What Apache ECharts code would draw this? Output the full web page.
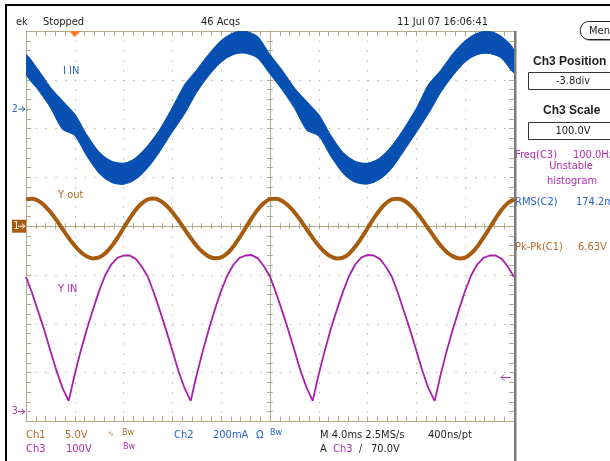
<!DOCTYPE html>
<html>
<head>
<meta charset="utf-8">
<script src="https://cdn.jsdelivr.net/npm/echarts@6/dist/echarts.min.js"></script>
<style>
html, body { margin: 0; padding: 0; background: #fff; }
#scope { width: 610px; height: 461px; }
</style>
</head>
<body>
<div id="scope"></div>
<script>
// time base 4 ms/div, trigger point 1 div from the left edge
var T_START = -4, T_END = 36;

// Ch1 "Y out" in V, one sample every 0.5 ms from T_START
var voutStep = 0.5;
var vout = [2.75, 2.82, 2.60, 2.13, 1.45, 0.62, -0.29, -1.19, -2.01, -2.67, -3.11, -3.30, -3.20, -2.78, -2.09, -1.19, -0.19, 0.80, 1.69, 2.36,
	2.76, 2.83, 2.61, 2.12, 1.44, 0.60, -0.31, -1.21, -2.03, -2.68, -3.12, -3.29, -3.19, -2.77, -2.07, -1.17, -0.17, 0.82, 1.70, 2.37,
	2.77, 2.81, 2.59, 2.11, 1.43, 0.61, -0.30, -1.20, -2.02, -2.66, -3.11, -3.31, -3.21, -2.79, -2.09, -1.20, -0.21, 0.79, 1.67, 2.35,
	2.74, 2.82, 2.62, 2.14, 1.46, 0.63, -0.28, -1.18, -2.00, -2.66, -3.09, -3.30, -3.22, -2.78, -2.08, -1.18, -0.18, 0.81, 1.70, 2.37,
	2.75];

// Ch2 "I IN" in mA, the noisy trace read as an upper and a lower edge, every 1 ms
// (it widens and stalls a little at each zero crossing)
var iStep = 1;
var iHigh = [222, 160, 88, 32, -22, -108, -178, -214, -222, -200,
	-150, -82, 5, 98, 160, 225, 280, 312, 318, 296,
	222, 158, 86, 30, -24, -110, -180, -215, -222, -201,
	-151, -80, 2, 100, 158, 226, 279, 311, 318, 296,
	240];
var iLow = [145, 80, 8, -82, -108, -192, -262, -300, -308, -287,
	-238, -170, -92, -18, 70, 140, 194, 224, 229, 209,
	145, 80, 6, -85, -110, -193, -262, -300, -307, -287,
	-240, -168, -94, -16, 70, 139, 195, 224, 228, 208,
	150];

// Ch3 "Y IN" in V (rectified line), every 0.5 ms
var vinStep = 0.5;
var vin = [276, 243, 205, 167, 125, 84, 48, 22,
	77, 126, 170, 210, 248, 280, 302, 315, 320, 320, 313, 297, 276, 242, 205, 166, 125, 83, 48, 22,
	76, 125, 170, 211, 248, 279, 301, 315, 320, 321, 314, 298, 277, 243, 206, 167, 126, 84, 49, 22,
	77, 126, 171, 210, 247, 279, 302, 316, 321, 320, 313, 297, 276, 242, 204, 166, 125, 83, 47, 22,
	77, 126, 170, 210, 248, 280, 302, 315, 320, 320, 313, 297, 276];

// vertical settings: units per div and position in div
var ch1 = {scale: 5, pos: 0};
var ch2 = {scale: 200, pos: 2.4};
var ch3 = {scale: 100, pos: -3.8};
var trigLevel = 70; // V on Ch3

var FRAME = '#b2aa8c', DOTS = '#b9b49e';
var BLUE = '#0750b2', BROWN = '#a65c0c', MAG = '#a81fae';
var BLUE_T = '#2a62c8', BROWN_T = '#b26c26', MAG_T = '#b02cb0', DARK = '#1e1e1e';
var NARROW = "'Liberation Sans Narrow', 'Arial Narrow', 'DejaVu Sans Condensed', 'Liberation Sans', sans-serif";
var GRID = {left: 26, top: 31, width: 488, height: 390.4};

function pairs(t0, step, arr) {
	return arr.map(function(v, i) { return [t0 + i * step, v]; });
}
function chRange(ch) {
	return {min: Math.round((-4 - ch.pos) * ch.scale * 1000) / 1000, max: Math.round((4 - ch.pos) * ch.scale * 1000) / 1000};
}

function frameX(pos, split) {
	return {
		type: 'value', min: T_START, max: T_END, interval: 4, position: pos,
		axisLine: {onZero: false, lineStyle: {color: FRAME, width: 1}},
		axisTick: {inside: true, length: 5, lineStyle: {color: FRAME}},
		minorTick: {show: true, splitNumber: 5, length: 5, lineStyle: {color: FRAME}},
		axisLabel: {show: false},
		splitLine: {show: split, lineStyle: {color: DOTS, type: [1.5, 8.26]}}
	};
}
function centerX(pos) {
	return {
		type: 'value', min: T_START, max: T_END, interval: 4, position: pos, offset: -GRID.height / 2,
		axisLine: {onZero: false, lineStyle: {color: FRAME}},
		axisTick: {length: 3, lineStyle: {color: FRAME}},
		minorTick: {show: true, splitNumber: 5, length: 3, lineStyle: {color: FRAME}},
		axisLabel: {show: false}, splitLine: {show: false}
	};
}
function frameY(pos, split) {
	return {
		type: 'value', min: -20, max: 20, interval: 5, position: pos,
		axisLine: {onZero: false, lineStyle: {color: FRAME, width: 1}},
		axisTick: {inside: true, length: 5, lineStyle: {color: FRAME}},
		minorTick: {show: true, splitNumber: 5, length: 5, lineStyle: {color: FRAME}},
		axisLabel: {show: false},
		splitLine: {show: split, lineStyle: {color: DOTS, type: [1.5, 8.26]}}
	};
}
function centerY(pos) {
	return {
		type: 'value', min: -20, max: 20, interval: 5, position: pos, offset: -GRID.width / 2,
		axisLine: {onZero: false, lineStyle: {color: FRAME}},
		axisTick: {length: 3, lineStyle: {color: FRAME}},
		minorTick: {show: true, splitNumber: 5, length: 3, lineStyle: {color: FRAME}},
		axisLabel: {show: false}, splitLine: {show: false}
	};
}
function hiddenY(ch) {
	var r = chRange(ch);
	return {type: 'value', min: r.min, max: r.max, show: false, splitLine: {show: false}};
}

// the I IN trace is a thick noisy band: fill between its two edges
function renderBand(params, api) {
	var pts = [];
	for (var i = 0; i < iHigh.length; i++) pts.push(api.coord([T_START + i * iStep, iHigh[i]]));
	for (var j = iLow.length - 1; j >= 0; j--) pts.push(api.coord([T_START + j * iStep, iLow[j]]));
	return {
		type: 'polygon',
		shape: {points: pts, smooth: 0.25},
		style: {fill: BLUE, stroke: BLUE, lineWidth: 1.2}
	};
}

var chart = echarts.init(document.getElementById('scope'));
chart.setOption({
	animation: false,
	backgroundColor: '#fff',
	grid: {left: GRID.left, top: GRID.top, width: GRID.width, height: GRID.height, containLabel: false},
	xAxis: [frameX('bottom', true), frameX('top', false), centerX('bottom'), centerX('top')],
	yAxis: [frameY('left', true), frameY('right', false), centerY('left'), centerY('right'), hiddenY(ch2), hiddenY(ch3)],
	series: [{
		name: 'I IN', type: 'custom', xAxisIndex: 0, yAxisIndex: 4,
		data: [[T_START, 0]], renderItem: renderBand, clip: true, z: 2, silent: true
	}, {
		name: 'Y out', type: 'line', xAxisIndex: 0, yAxisIndex: 0,
		data: pairs(T_START, voutStep, vout), symbol: 'none', smooth: 0.3,
		lineStyle: {color: BROWN, width: 4}, z: 3, silent: true
	}, {
		name: 'Y IN', type: 'line', xAxisIndex: 0, yAxisIndex: 5,
		data: pairs(T_START, vinStep, vin), symbol: 'none',
		lineStyle: {color: MAG, width: 1.8}, z: 4, silent: true
	}]
});

// screen furniture placed from the axes
var x0 = chart.convertToPixel({xAxisIndex: 0}, 0);
var y1 = chart.convertToPixel({yAxisIndex: 0}, 0);
var y2 = chart.convertToPixel({yAxisIndex: 4}, 0);
var y3 = chart.convertToPixel({yAxisIndex: 5}, 0);
var yTrig = chart.convertToPixel({yAxisIndex: 5}, trigLevel);

function txt(x, y, s, color, size, opt) {
	opt = opt || {};
	return {
		type: 'text', x: x, y: y, silent: true, z: 20,
		style: {
			text: s, fill: color,
			font: (opt.bold ? 'bold ' : '') + size + 'px ' + (opt.family || NARROW),
			align: opt.align || 'left', textAlign: opt.align || 'left',
			verticalAlign: 'middle', textVerticalAlign: 'middle'
		}
	};
}
function arrowRight(x, y, color) {
	return [{
		type: 'polyline', silent: true, z: 20,
		shape: {points: [[x, y], [x + 7, y]]}, style: {stroke: color, lineWidth: 1}
	}, {
		type: 'polyline', silent: true, z: 20,
		shape: {points: [[x + 4, y - 2.5], [x + 7, y], [x + 4, y + 2.5]]}, style: {stroke: color, lineWidth: 1, fill: null}
	}];
}

var g = [];
// border
g.push({type: 'rect', silent: true, z: 30, shape: {x: 5, y: 4, width: 605, height: 2}, style: {fill: '#000'}});
g.push({type: 'rect', silent: true, z: 30, shape: {x: 5, y: 4, width: 2, height: 457}, style: {fill: '#000'}});
// panel separator
g.push({type: 'rect', silent: true, z: 30, shape: {x: 514, y: 31, width: 2.5, height: 430}, style: {fill: '#7c7c7c'}});

// top line
g.push(txt(16, 22, 'ek', DARK, 11));
g.push(txt(43, 22, 'Stopped', DARK, 11));
g.push(txt(201, 22, '46 Acqs', DARK, 11));
g.push(txt(397, 22, '11 Jul 07 16:06:41', DARK, 11));

// trigger position
g.push({type: 'polygon', silent: true, z: 25, shape: {points: [[x0 - 6, GRID.top], [x0 + 6, GRID.top], [x0, GRID.top + 6]]}, style: {fill: '#ff7a2a'}});

// channel ground markers
g.push(txt(12, y2, '2', BLUE_T, 10));
g = g.concat(arrowRight(18, y2, BLUE_T));
g.push({type: 'rect', silent: true, z: 19, shape: {x: 12, y: y1 - 6.5, width: 14, height: 13}, style: {fill: BROWN}});
g.push(txt(13.5, y1, '1', '#fff', 10));
g = g.concat(arrowRight(18, y1, '#fff'));
g.push(txt(12, y3, '3', MAG_T, 10));
g = g.concat(arrowRight(18, y3, MAG_T));
// trigger level
g.push({type: 'polyline', silent: true, z: 20, shape: {points: [[501, yTrig], [511, yTrig]]}, style: {stroke: MAG_T, lineWidth: 1}});
g.push({type: 'polyline', silent: true, z: 20, shape: {points: [[504, yTrig - 3], [501, yTrig], [504, yTrig + 3]]}, style: {stroke: MAG_T, lineWidth: 1, fill: null}});

// trace labels
g.push(txt(63, 71, 'I IN', BLUE_T, 11));
g.push(txt(58, 195, 'Y out', BROWN_T, 11));
g.push(txt(58, 289, 'Y IN', MAG_T, 11));

// status bar
g.push(txt(26, 435, 'Ch1', BROWN_T, 11));
g.push(txt(65, 435, '5.0V', BROWN_T, 11));
g.push(txt(108, 434, '\u223f', BROWN_T, 8));
g.push(txt(122, 433, 'Bw', BROWN_T, 9));
g.push(txt(174, 435, 'Ch2', BLUE_T, 11));
g.push(txt(213, 435, '200mA', BLUE_T, 11));
g.push(txt(256, 435, '\u03a9', BLUE_T, 11));
g.push(txt(270, 433, 'Bw', BLUE_T, 9));
g.push(txt(320, 435, 'M 4.0ms 2.5MS/s', DARK, 11));
g.push(txt(428, 435, '400ns/pt', DARK, 11));
g.push(txt(26, 449, 'Ch3', MAG_T, 11));
g.push(txt(66, 449, '100V', MAG_T, 11));
g.push(txt(123, 447, 'Bw', MAG_T, 9));
g.push(txt(320, 449, 'A', DARK, 11));
g.push(txt(333, 449, 'Ch3', MAG_T, 11));
g.push(txt(359, 449, '/', DARK, 10));
g.push(txt(371, 449, '70.0V', DARK, 11));

// right side menu
g.push({type: 'rect', silent: true, z: 18, shape: {x: 582, y: 23, width: 40, height: 18, r: 8}, style: {fill: '#9a9a9a'}});
g.push({type: 'rect', silent: true, z: 19, shape: {x: 580.5, y: 21.5, width: 40, height: 18, r: 8}, style: {fill: '#fff', stroke: '#222', lineWidth: 1}});
g.push(txt(589, 31, 'Men', DARK, 11));
g.push(txt(533, 62, 'Ch3 Position', DARK, 12, {bold: true, family: "'Liberation Sans', Arial, sans-serif"}));
g.push({type: 'rect', silent: true, z: 19, shape: {x: 528.5, y: 72.5, width: 90, height: 17}, style: {fill: '#fff', stroke: '#333', lineWidth: 1}});
g.push(txt(573, 81, '-3.8div', DARK, 11, {align: 'center'}));
g.push(txt(543, 111, 'Ch3 Scale', DARK, 12, {bold: true, family: "'Liberation Sans', Arial, sans-serif"}));
g.push({type: 'rect', silent: true, z: 19, shape: {x: 528.5, y: 122.5, width: 90, height: 17}, style: {fill: '#fff', stroke: '#333', lineWidth: 1}});
g.push(txt(573, 131, '100.0V', DARK, 11, {align: 'center'}));
g.push(txt(515, 155, 'Freq(C3)', MAG_T, 11));
g.push(txt(573, 155, '100.0Hz', MAG_T, 11));
g.push(txt(571, 166, 'Unstable', MAG_T, 11, {align: 'center'}));
g.push(txt(572, 181, 'histogram', MAG_T, 11, {align: 'center'}));
g.push(txt(515, 202, 'RMS(C2)', BLUE_T, 11));
g.push(txt(576, 202, '174.2mA', BLUE_T, 11));
g.push(txt(515, 247, 'Pk-Pk(C1)', BROWN_T, 11));
g.push(txt(578, 247, '6.63V', BROWN_T, 11));

chart.setOption({graphic: {elements: g}});
</script>
</body>
</html>
